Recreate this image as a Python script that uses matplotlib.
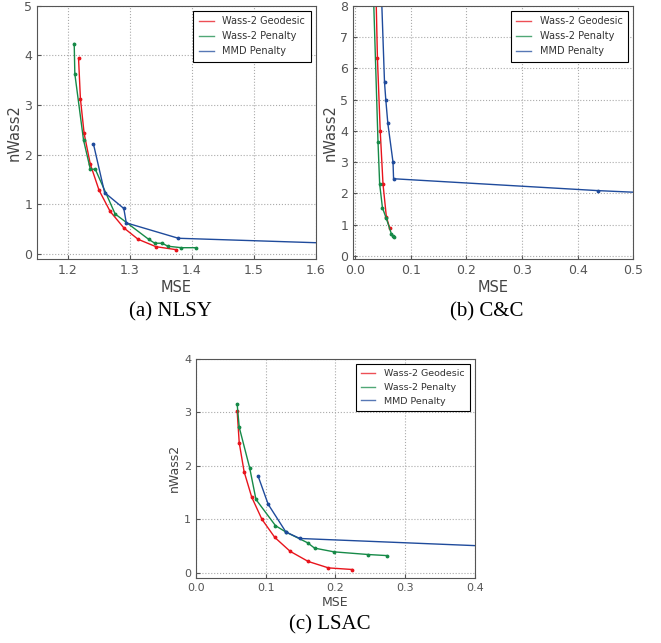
import matplotlib
matplotlib.use('Agg')
import matplotlib.pyplot as plt

red = '#e8141c'
green = '#168a48'
blue = '#1f4b9c'

# NLSY
a_geo_x = [1.217, 1.220, 1.226, 1.236, 1.250, 1.268, 1.290, 1.313, 1.342, 1.375]
a_geo_y = [3.94, 3.13, 2.43, 1.81, 1.29, 0.86, 0.53, 0.30, 0.15, 0.09]
a_pen_x = [1.210, 1.211, 1.225, 1.236, 1.244, 1.276, 1.330, 1.340, 1.352, 1.361, 1.383, 1.407]
a_pen_y = [4.24, 3.63, 2.30, 1.71, 1.71, 0.81, 0.30, 0.22, 0.22, 0.16, 0.13, 0.13]
a_mmd_x = [1.241, 1.259, 1.290, 1.294, 1.378, 1.70]
a_mmd_y = [2.22, 1.24, 0.92, 0.63, 0.32, 0.19]

# C&C
b_geo_x = [0.036, 0.040, 0.045, 0.050, 0.056, 0.062]
b_geo_y = [9.5, 6.32, 4.00, 2.30, 1.26, 0.89]
b_pen_x = [0.030, 0.041, 0.044, 0.049, 0.056, 0.065, 0.068, 0.070]
b_pen_y = [10.0, 3.65, 2.30, 1.54, 1.20, 0.71, 0.64, 0.60]
b_mmd_x = [0.045, 0.0527, 0.055, 0.0587, 0.068, 0.069, 0.437, 0.55]
b_mmd_y = [9.5, 5.56, 5.00, 4.24, 3.00, 2.47, 2.09, 2.00]

# LSAC
c_geo_x = [0.059, 0.062, 0.069, 0.080, 0.0945, 0.113, 0.135, 0.161, 0.190, 0.224]
c_geo_y = [3.03, 2.43, 1.89, 1.41, 1.00, 0.66, 0.40, 0.21, 0.09, 0.06]
c_pen_x = [0.059, 0.062, 0.077, 0.086, 0.114, 0.129, 0.160, 0.170, 0.198, 0.247, 0.274]
c_pen_y = [3.16, 2.72, 1.96, 1.37, 0.88, 0.76, 0.56, 0.46, 0.39, 0.34, 0.32]
c_mmd_x = [0.089, 0.1035, 0.129, 0.149, 0.45]
c_mmd_y = [1.81, 1.28, 0.76, 0.64, 0.48]

fig = plt.figure(figsize=(6.61, 6.43), dpi=100)
ax_a = fig.add_axes([0.056, 0.597, 0.422, 0.394])
ax_b = fig.add_axes([0.534, 0.597, 0.424, 0.394])
ax_c = fig.add_axes([0.2965, 0.101, 0.422, 0.341])


def draw(ax, gx, gy, px, py, mx, my, xlim, ylim, xticks, yticks, tfs, lfs, legfs):
    ax.plot(gx, gy, color=red, lw=1.0, marker='.', ms=3.5, label='Wass-2 Geodesic')
    ax.plot(px, py, color=green, lw=1.0, marker='.', ms=3.5, label='Wass-2 Penalty')
    ax.plot(mx, my, color=blue, lw=1.0, marker='.', ms=3.5, label='MMD Penalty')
    ax.set_xlim(xlim)
    ax.set_ylim(ylim)
    ax.set_xticks(xticks)
    ax.set_xticklabels(['%.1f' % t for t in xticks])
    ax.set_yticks(yticks)
    ax.set_yticklabels(['%d' % t for t in yticks])
    ax.grid(True, color='#aaaaaa', linestyle=':', linewidth=0.8)
    ax.tick_params(direction='in', labelsize=tfs, labelcolor='#555555', color='#555555', length=3)
    for s in ax.spines.values():
        s.set_color('#555555')
    ax.set_xlabel('MSE', fontsize=lfs, color='#444444', labelpad=2)
    ax.set_ylabel('nWass2', fontsize=lfs, color='#444444', labelpad=2)
    leg = ax.legend(loc='upper right', fontsize=legfs, fancybox=False, framealpha=1,
                    edgecolor='black', handlelength=1.5, borderpad=0.6, labelspacing=0.5,
                    handletextpad=0.9)
    leg.get_frame().set_linewidth(0.8)
    for h in leg.legend_handles:
        h.set_marker('')
        h.set_alpha(0.75)
    for t in leg.get_texts():
        t.set_color('#333333')


draw(ax_a, a_geo_x, a_geo_y, a_pen_x, a_pen_y, a_mmd_x, a_mmd_y,
     (1.15, 1.6), (-0.1, 5), [1.2, 1.3, 1.4, 1.5, 1.6], [0, 1, 2, 3, 4, 5], 9, 10.5, 7)
draw(ax_b, b_geo_x, b_geo_y, b_pen_x, b_pen_y, b_mmd_x, b_mmd_y,
     (-0.004, 0.5), (-0.1, 8), [0.0, 0.1, 0.2, 0.3, 0.4, 0.5], [0, 1, 2, 3, 4, 5, 6, 7, 8], 9, 10.5, 7)
draw(ax_c, c_geo_x, c_geo_y, c_pen_x, c_pen_y, c_mmd_x, c_mmd_y,
     (0.0, 0.4), (-0.1, 4), [0.0, 0.1, 0.2, 0.3, 0.4], [0, 1, 2, 3, 4], 8, 9, 6.8)

cap = dict(fontsize=15, family='Liberation Serif', ha='center', va='center')
fig.text(170 / 661, 1 - 312 / 643, '(a) NLSY', **cap)
fig.text(487 / 661, 1 - 312 / 643, '(b) C&C', **cap)
fig.text(330 / 661, 1 - 625 / 643, '(c) LSAC', **cap)

fig.savefig('out.png', dpi=100)
